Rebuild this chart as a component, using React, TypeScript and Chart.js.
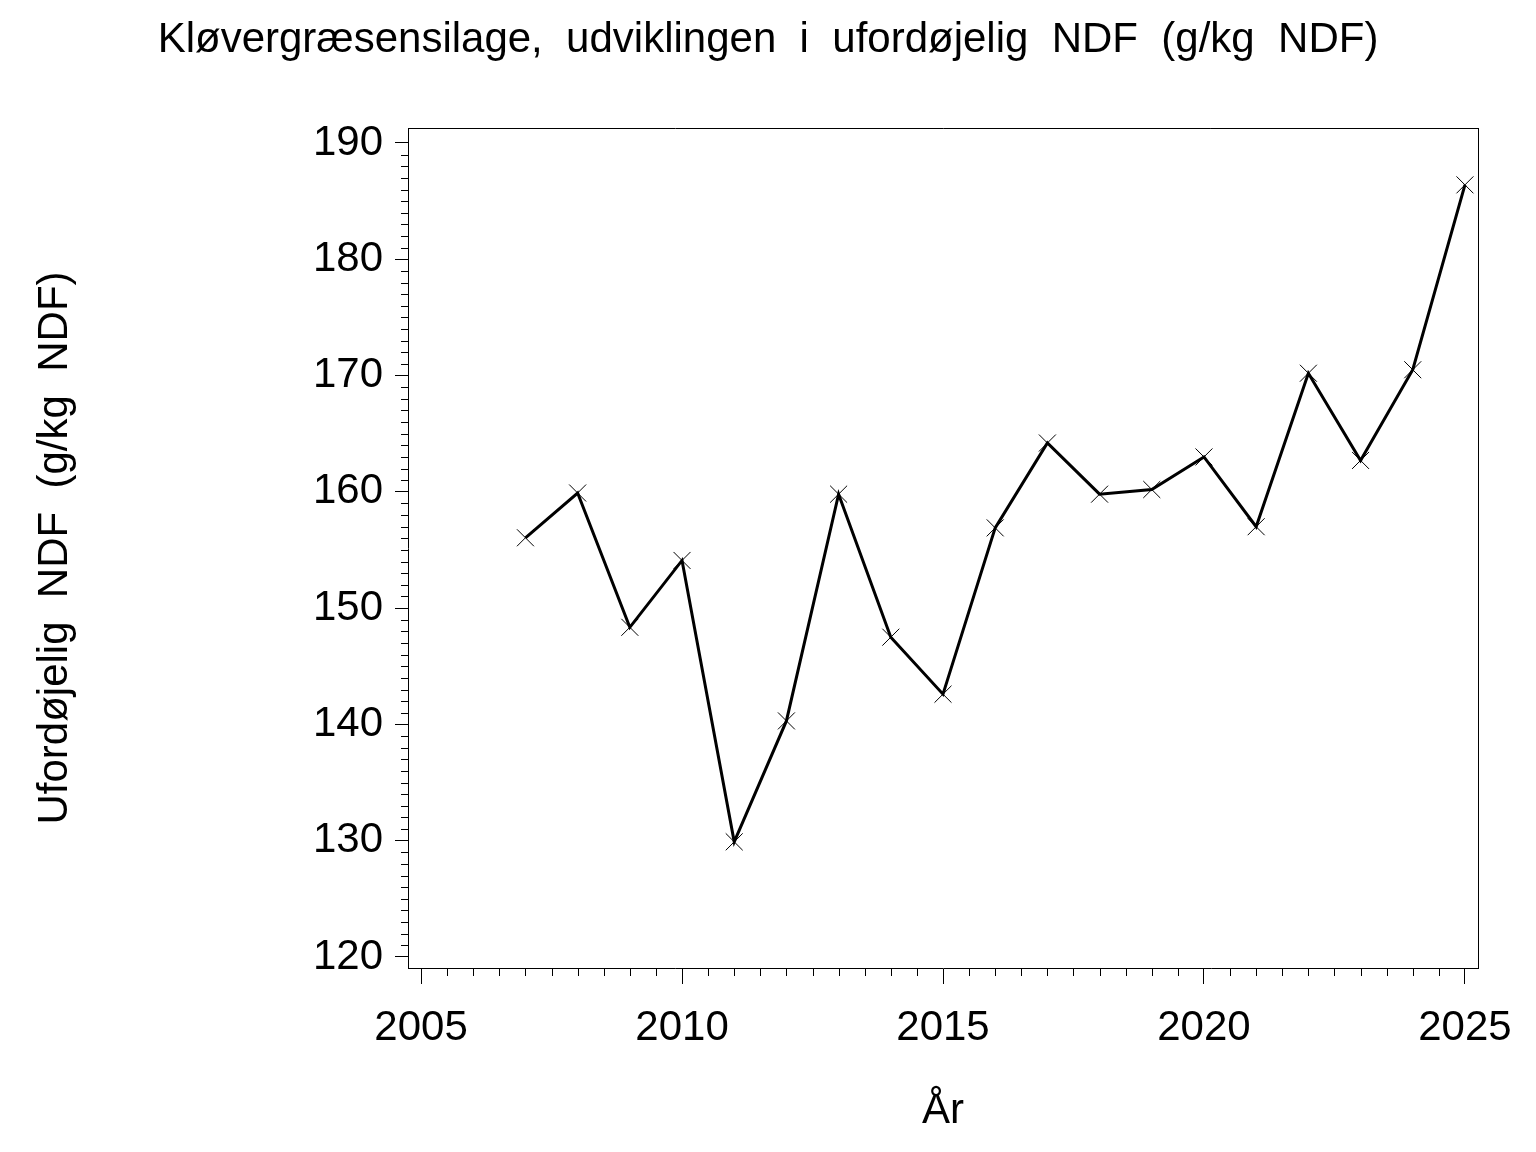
import React, { useEffect, useRef } from "react";
import { Chart, registerables } from "chart.js";

Chart.register(...registerables);

const titleText = "Kløvergræsensilage,  udviklingen  i  ufordøjelig  NDF  (g/kg  NDF)";
const yTitle = "Ufordøjelig  NDF  (g/kg  NDF)";
const xTitle = "År";

const years = [2007, 2008, 2009, 2010, 2011, 2012, 2013, 2014, 2015, 2016, 2017, 2018, 2019, 2020, 2021, 2022, 2023, 2024, 2025];
const values = [156.05, 159.9, 148.35, 154.1, 129.9, 140.3, 159.8, 147.5, 142.6, 156.9, 164.2, 159.8, 160.2, 163.0, 157.0, 170.2, 162.7, 170.5, 186.4];

const xTicks = [2005, 2010, 2015, 2020, 2025];
const yTicks = [120, 130, 140, 150, 160, 170, 180, 190];

const FONT = "'Liberation Sans', Arial, Helvetica, sans-serif";

const minorTicks = {
  id: "minorTicks",
  afterDraw(chart: any) {
    const ctx = chart.ctx;
    const { left, right, top, bottom } = chart.chartArea;
    const xs = chart.scales.x;
    const ys = chart.scales.y;
    ctx.save();
    ctx.strokeStyle = "#000";
    ctx.lineWidth = 1;
    ctx.beginPath();
    // box top and right
    ctx.moveTo(left, top + 0.5);
    ctx.lineTo(right + 0.5, top + 0.5);
    ctx.moveTo(right + 0.5, top);
    ctx.lineTo(right + 0.5, bottom);
    // x minor ticks every half year
    for (let i = 0; i <= 40; i++) {
      const v = xTicks[0] + i * 0.5;
      if (i % 10 === 0) continue;
      const px = Math.round(xs.getPixelForValue(v)) + 0.5;
      ctx.moveTo(px, bottom);
      ctx.lineTo(px, bottom + 8);
    }
    // y minor ticks every unit
    for (let i = 0; i <= 70; i++) {
      const v = yTicks[0] + i;
      if (i % 10 === 0) continue;
      const py = Math.round(ys.getPixelForValue(v)) + 0.5;
      ctx.moveTo(left, py);
      ctx.lineTo(left - 7, py);
    }
    ctx.stroke();
    ctx.restore();
  },
};

export default function App() {
  const ref = useRef<HTMLCanvasElement>(null);
  useEffect(() => {
    const chart = new Chart(ref.current!, {
      type: "line",
      data: {
        datasets: [
          {
            data: years.map((y, i) => ({ x: y, y: values[i] })),
            borderColor: "#000",
            borderWidth: 3,
            pointStyle: "crossRot",
            pointRadius: 12,
            pointBorderWidth: 1,
            pointBorderColor: "#000",
            pointBackgroundColor: "#000",
            tension: 0,
          },
        ],
      },
      options: {
        animation: false,
        responsive: false,
        maintainAspectRatio: false,
        layout: { padding: { left: 0, right: 0, top: 0, bottom: 0 } },
        plugins: {
          legend: { display: false },
          tooltip: { enabled: false },
          title: {
            display: true,
            text: titleText,
            color: "#000",
            font: { family: FONT, size: 42, weight: "normal", lineHeight: 1.2 },
            padding: { top: 15, bottom: 62.6 },
          },
        },
        scales: {
          x: {
            type: "linear",
            min: 2004.75,
            max: 2025.25,
            afterFit(scale: any) {
              scale.height = 184;
            },
            afterBuildTicks(scale: any) {
              scale.ticks = xTicks.map((v) => ({ value: v }));
            },
            ticks: {
              color: "#000",
              font: { family: FONT, size: 42 },
              padding: 19,
              maxRotation: 0,
              autoSkip: false,
              callback: (v: any) => String(v),
            },
            grid: {
              display: true,
              drawOnChartArea: false,
              drawTicks: true,
              tickLength: 16,
              color: "#000",
              lineWidth: 1,
            },
            border: { display: true, color: "#000", width: 1 },
            title: {
              display: true,
              text: xTitle,
              color: "#000",
              font: { family: FONT, size: 42, lineHeight: 1.2 },
              padding: { top: 0, bottom: 15 },
            },
          },
          y: {
            type: "linear",
            min: 119.05,
            max: 191.29,
            afterFit(scale: any) {
              scale.width = 408;
            },
            afterBuildTicks(scale: any) {
              scale.ticks = yTicks.map((v) => ({ value: v }));
            },
            ticks: {
              color: "#000",
              font: { family: FONT, size: 42 },
              padding: 12,
              autoSkip: false,
              callback: (v: any) => String(v),
            },
            grid: {
              display: true,
              drawOnChartArea: false,
              drawTicks: true,
              tickLength: 13,
              color: "#000",
              lineWidth: 1,
            },
            border: { display: true, color: "#000", width: 1 },
            title: {
              display: true,
              text: yTitle,
              color: "#000",
              font: { family: FONT, size: 42, lineHeight: 1.2 },
              padding: { top: 30, bottom: 0 },
            },
          },
          yRight: {
            type: "linear",
            position: "right",
            display: true,
            min: 119.05,
            max: 191.29,
            afterFit(scale: any) {
              scale.width = 58;
            },
            ticks: { display: false },
            grid: { display: false, drawTicks: false },
            border: { display: false },
          },
        },
      },
      plugins: [minorTicks],
    });
    return () => chart.destroy();
  }, []);
  return (
    <div style={{ position: "absolute", left: 0, top: 0, width: 1536, height: 1152, background: "#fff" }}>
      <canvas ref={ref} width={1536} height={1152} style={{ width: 1536, height: 1152, display: "block" }} />
    </div>
  );
}
